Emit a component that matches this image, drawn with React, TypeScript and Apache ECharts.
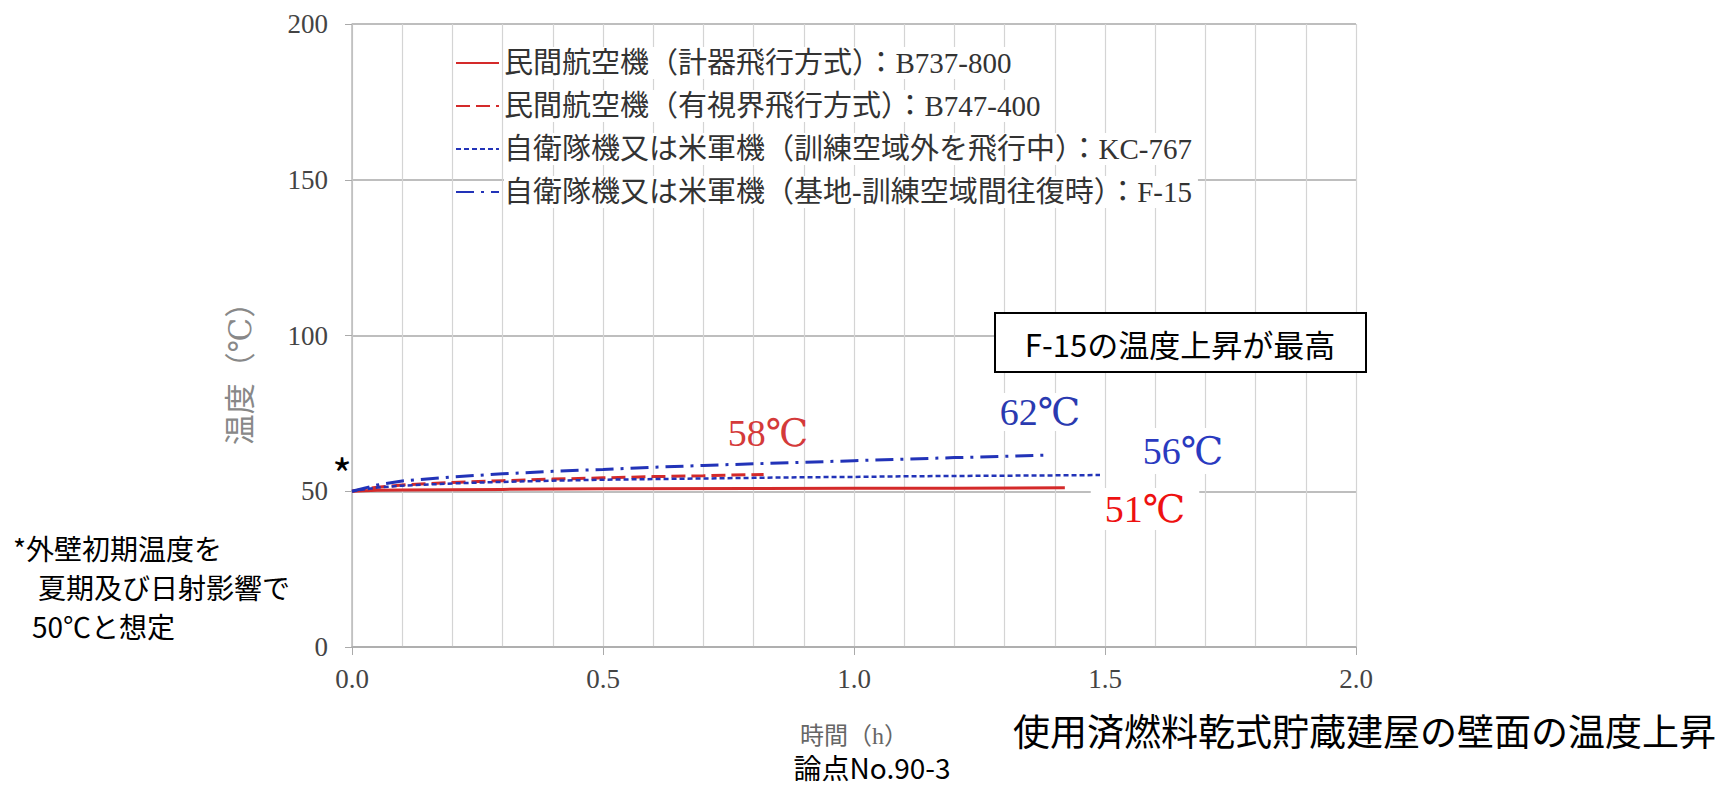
import React, { useEffect, useRef } from "react";
import * as echarts from "echarts";

const seriesNames = [
  "民間航空機（計器飛行方式）：B737-800",
  "民間航空機（有視界飛行方式）：B747-400",
  "自衛隊機又は米軍機（訓練空域外を飛行中）：KC-767",
  "自衛隊機又は米軍機（基地-訓練空域間往復時）：F-15",
];

const b737Time = [0, 0.05, 0.1, 0.3, 0.5, 0.8, 1.0, 1.2, 1.42];
const b737Temp = [50, 50.3, 50.4, 50.6, 50.8, 50.9, 51.0, 51.0, 51.1];

const b747Time = [0, 0.05, 0.1, 0.2, 0.3, 0.4, 0.5, 0.6, 0.7, 0.82];
const b747Temp = [50, 51.3, 52.0, 52.8, 53.4, 53.9, 54.3, 54.7, 55.0, 55.4];

const kc767Time = [0, 0.05, 0.1, 0.2, 0.3, 0.4, 0.5, 0.6, 0.7, 0.8, 0.9, 1.0, 1.1, 1.2, 1.3, 1.4, 1.49];
const kc767Temp = [50, 51.2, 51.8, 52.5, 53.0, 53.4, 53.7, 53.9, 54.1, 54.3, 54.5, 54.6, 54.8, 54.9, 55.0, 55.1, 55.2];

const f15Time = [0, 0.05, 0.1, 0.2, 0.3, 0.4, 0.5, 0.6, 0.7, 0.8, 0.9, 1.0, 1.1, 1.2, 1.3, 1.38];
const f15Temp = [50, 52.0, 53.3, 54.6, 55.6, 56.4, 57.0, 57.7, 58.3, 58.8, 59.3, 59.8, 60.3, 60.8, 61.2, 61.6];

const xTicks = [0, 0.5, 1.0, 1.5, 2.0];
const yTicks = [0, 50, 100, 150, 200];

const yAxisTitle = "温度（℃）";
const xAxisTitle = "時間（h）";
const peakLabels = ["58℃", "62℃", "56℃", "51℃"];
const boxText = "F-15の温度上昇が最高";
const noteLines = ["*外壁初期温度を", "夏期及び日射影響で", "50℃と想定"];
const pageTitle = "使用済燃料乾式貯蔵建屋の壁面の温度上昇";
const issueText = "論点No.90-3";

const SERIF = "'Liberation Serif', 'DejaVu Serif', 'Noto Sans CJK JP', serif";
const SANS = "'Noto Sans CJK JP', 'Noto Sans', sans-serif";

const pairs = (t: number[], v: number[]) => t.map((x, i) => [x, v[i]]);

export default function App() {
  const ref = useRef<HTMLDivElement>(null);
  useEffect(() => {
    if (!ref.current) return;
    const chart = echarts.init(ref.current, undefined, { renderer: "svg" });
    const red = "#d42a2a";
    const blue = "#2233b8";
    chart.setOption({
      animation: false,
      backgroundColor: "#fff",
      grid: { left: 352, right: 370, top: 24, bottom: 140, containLabel: false },
      xAxis: {
        type: "value",
        min: xTicks[0],
        max: xTicks[xTicks.length - 1],
        interval: 0.5,
        name: xAxisTitle,
        nameLocation: "middle",
        nameGap: 77,
        nameTextStyle: { color: "#666", fontSize: 24, fontFamily: SERIF },
        axisLine: { show: true, lineStyle: { color: "#aaa", width: 1.5 } },
        axisTick: { show: true, length: 8, lineStyle: { color: "#aaa" } },
        axisLabel: {
          color: "#444",
          fontSize: 27,
          fontFamily: SERIF,
          margin: 18,
          formatter: (v: number) => v.toFixed(1),
        },
        splitLine: { show: true, lineStyle: { color: "#d4d4d4", width: 1.2 } },
        minorSplitLine: { show: true, lineStyle: { color: "#d4d4d4", width: 1.2 } },
      },
      yAxis: {
        type: "value",
        min: yTicks[0],
        max: yTicks[yTicks.length - 1],
        interval: 50,
        axisLine: { show: true, lineStyle: { color: "#bbb", width: 1.5 } },
        axisTick: { show: true, length: 7, lineStyle: { color: "#aaa" } },
        axisLabel: { color: "#444", fontSize: 27, fontFamily: SERIF, margin: 24 },
        splitLine: { show: true, lineStyle: { color: "#a8a8a8", width: 1.5 } },
      },
      legend: {
        orient: "vertical",
        left: 450,
        top: 42,
        itemWidth: 43,
        itemHeight: 14,
        itemGap: 11,
        data: seriesNames,
        itemStyle: { opacity: 0 },
        textStyle: {
          color: "#333",
          fontSize: 29,
          lineHeight: 30,
          fontFamily: SERIF,
          backgroundColor: "#fff",
          padding: [1, 6, 1, 0],
        },
      },
      series: [
        {
          name: seriesNames[0],
          type: "line",
          data: pairs(b737Time, b737Temp),
          showSymbol: false,
          symbol: "none",
          lineStyle: { color: red, width: 3, type: "solid" },
          itemStyle: { color: red },
          z: 4,
        },
        {
          name: seriesNames[1],
          type: "line",
          data: pairs(b747Time, b747Temp),
          showSymbol: false,
          symbol: "none",
          lineStyle: { color: red, width: 3, type: [14, 6] },
          itemStyle: { color: red },
          z: 4,
        },
        {
          name: seriesNames[2],
          type: "line",
          data: pairs(kc767Time, kc767Temp),
          showSymbol: false,
          symbol: "none",
          lineStyle: { color: blue, width: 2.5, type: [5, 3] },
          itemStyle: { color: blue },
          z: 4,
        },
        {
          name: seriesNames[3],
          type: "line",
          data: pairs(f15Time, f15Temp),
          showSymbol: false,
          symbol: "none",
          lineStyle: { color: blue, width: 3, type: [18, 7, 3, 7] },
          itemStyle: { color: blue },
          z: 4,
        },
      ],
      graphic: [
        {
          type: "text",
          x: 240,
          y: 366,
          rotation: Math.PI / 2,
          z: 10,
          style: { text: yAxisTitle, fill: "#888", fontSize: 31, fontFamily: SERIF, align: "center", verticalAlign: "middle" },
        },
        {
          type: "text",
          x: 768,
          y: 433,
          z: 10,
          style: { text: peakLabels[0], fill: "#d43a3a", fontSize: 38, fontFamily: SERIF, align: "center", verticalAlign: "middle" },
        },
        {
          type: "text",
          x: 1040,
          y: 412,
          z: 10,
          style: { text: peakLabels[1], fill: "#2a3ab0", fontSize: 38, fontFamily: SERIF, align: "center", verticalAlign: "middle", backgroundColor: "#fff" },
        },
        {
          type: "text",
          x: 1183,
          y: 451,
          z: 10,
          style: { text: peakLabels[2], fill: "#2a3ac0", fontSize: 38, fontFamily: SERIF, align: "center", verticalAlign: "middle", backgroundColor: "#fff", padding: [4, 14] },
        },
        {
          type: "text",
          x: 1145,
          y: 509,
          z: 10,
          style: { text: peakLabels[3], fill: "#ee1111", fontSize: 38, fontFamily: SERIF, align: "center", verticalAlign: "middle", backgroundColor: "#fff", padding: [2, 14] },
        },
        {
          type: "text",
          x: 342,
          y: 472,
          z: 10,
          style: { text: "*", fill: "#000", fontSize: 42, fontFamily: SANS, align: "center", verticalAlign: "middle" },
        },
        {
          type: "rect",
          z: 10,
          shape: { x: 995, y: 313, width: 371, height: 59 },
          style: { fill: "#fff", stroke: "#000", lineWidth: 2 },
        },
        {
          type: "text",
          x: 1180,
          y: 343,
          z: 11,
          style: { text: boxText, fill: "#000", fontSize: 31, fontFamily: SANS, align: "center", verticalAlign: "middle" },
        },
        {
          type: "text",
          x: 13,
          y: 548,
          z: 10,
          style: { text: noteLines[0], fill: "#000", fontSize: 28, fontFamily: SANS, align: "left", verticalAlign: "middle" },
        },
        {
          type: "text",
          x: 38,
          y: 587,
          z: 10,
          style: { text: noteLines[1], fill: "#000", fontSize: 28, fontFamily: SANS, align: "left", verticalAlign: "middle" },
        },
        {
          type: "text",
          x: 32,
          y: 626,
          z: 10,
          style: { text: noteLines[2], fill: "#000", fontSize: 28, fontFamily: SANS, align: "left", verticalAlign: "middle" },
        },
        {
          type: "text",
          x: 1013,
          y: 730,
          z: 10,
          style: { text: pageTitle, fill: "#000", fontSize: 37, fontFamily: SANS, align: "left", verticalAlign: "middle" },
        },
        {
          type: "text",
          x: 872,
          y: 767,
          z: 10,
          style: { text: issueText, fill: "#000", fontSize: 28, fontFamily: SANS, align: "center", verticalAlign: "middle" },
        },
      ],
    });
    return () => chart.dispose();
  }, []);
  return <div ref={ref} style={{ width: 1726, height: 787, position: "absolute", left: 0, top: 0 }} />;
}
